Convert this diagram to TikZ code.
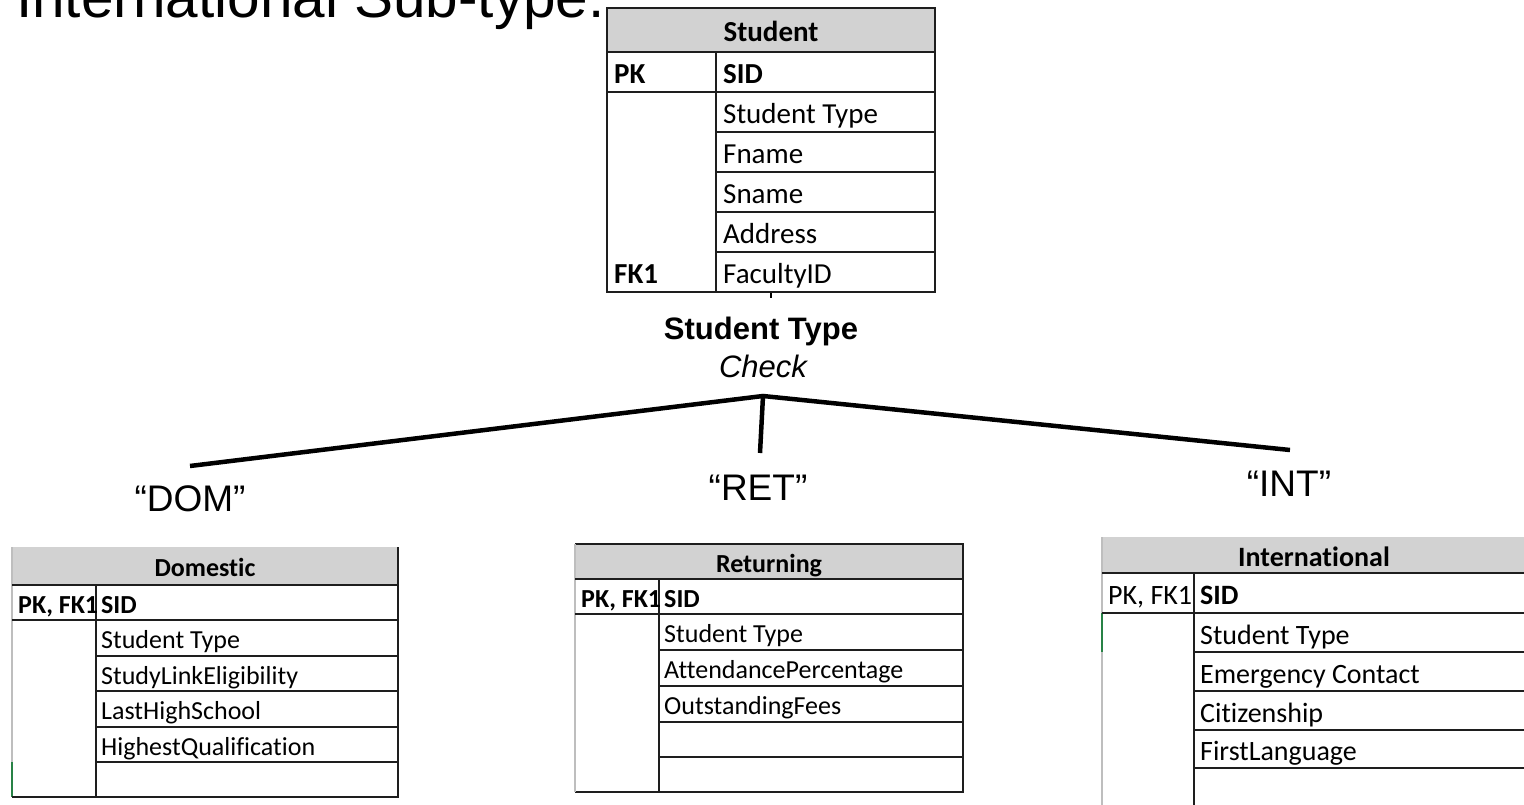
\documentclass[tikz,border=0pt]{standalone}
\usepackage{fontspec}
\setmainfont{Liberation Sans}
\newfontfamily\tabfont[Ligatures=NoCommon]{Carlito}
\definecolor{hdrgrey}{RGB}{210,210,210}
\definecolor{edgegrey}{RGB}{190,190,190}
\definecolor{tabline}{RGB}{30,30,30}
\definecolor{selgreen}{RGB}{40,130,70}
\tikzset{
  tline/.style={draw=tabline, line width=1.6pt},
  softedge/.style={draw=edgegrey, line width=1.4pt},
  cellA/.style={anchor=base west, inner sep=0pt, yshift=-2pt, font=\tabfont\fontsize{29}{34}\selectfont},
  cellB/.style={anchor=base west, inner sep=0pt, yshift=-2pt, font=\tabfont\fontsize{26}{31}\selectfont},
  cellC/.style={anchor=base west, inner sep=0pt, yshift=-2.5pt, font=\tabfont\fontsize{28}{33}\selectfont},
  branch/.style={line width=4.5pt, line cap=butt},
  tag/.style={anchor=base, inner sep=0pt, font=\fontsize{37}{42}\selectfont},
}
\begin{document}
\begin{tikzpicture}[x=1pt, y=-1pt]
\useasboundingbox (0,0) rectangle (1524,805);
\clip (0,0) rectangle (1524,805);

% heading line
\node[anchor=base west, inner sep=0pt, font=\fontsize{58.5}{64}\selectfont] (title) at (16,17.5) {International Sub-type.};

% ---------- Student ----------
\fill[hdrgrey] (607,8) rectangle (935,52);
\draw[tline] (607,8) rectangle (935,292);
\draw[tline] (607,52) -- (935,52);
\draw[tline] (716,52) -- (716,292);
\draw[tline] (607,92) -- (935,92);
\foreach \yy in {132,172,212,252} \draw[tline] (716,\yy) -- (935,\yy);
\node[cellA, anchor=base, font=\tabfont\bfseries\fontsize{29}{34}\selectfont] (sT) at (771,39.5) {Student};
\node[cellA, font=\tabfont\bfseries\fontsize{29}{34}\selectfont] (sPK) at (614,81.5) {PK};
\node[cellA, font=\tabfont\bfseries\fontsize{29}{34}\selectfont] (sSID) at (723,81.5) {SID};
\node[cellA] (sType) at (723,121.5) {Student Type};
\node[cellA] (sF) at (723,161.5) {Fname};
\node[cellA] (sS) at (723,201.5) {Sname};
\node[cellA] (sA) at (723,241.5) {Address};
\node[cellA, font=\tabfont\bfseries\fontsize{29}{34}\selectfont] (sFK) at (614,281.5) {FK1};
\node[cellA] (sFac) at (723,281.5) {FacultyID};
\coordinate (stub1) at (771,293);
\coordinate (stub2) at (771,298);
\draw[line width=1.6pt] (stub1) -- (stub2);

% ---------- discriminator ----------
\node[anchor=base, inner sep=0pt, font=\bfseries\fontsize{31}{36}\selectfont] (disc) at (761,339) {Student Type};
\node[anchor=base, inner sep=0pt, font=\itshape\fontsize{31}{36}\selectfont] (chk) at (763,377) {Check};
\coordinate (j) at (763,396);
\coordinate (jl) at (190,466);
\coordinate (jm) at (760,453);
\coordinate (jr) at (1290,450);
\draw[branch] (jl) -- (j) -- (jr);
\draw[branch] (j) -- (jm);
\node[tag] (dom) at (190,511) {“DOM”};
\node[tag] (ret) at (758,500) {“RET”};
\node[tag] (int) at (1289,496) {“INT”};

% ---------- Domestic ----------
\fill[hdrgrey] (12,547) rectangle (398,585);
\draw[softedge] (12,547) -- (12,797);
\draw[draw=selgreen, line width=1.4pt] (12,762) -- (12,797);
\draw[tline] (398,547) -- (398,797) -- (12,797);
\draw[tline] (12,585) -- (398,585);
\draw[tline] (96,585) -- (96,797);
\draw[tline] (12,620) -- (398,620);
\foreach \yy in {656,691,727,762} \draw[tline] (96,\yy) -- (398,\yy);
\node[cellB, anchor=base, font=\tabfont\bfseries\fontsize{26}{31}\selectfont] (dT) at (205,574.5) {Domestic};
\node[cellB, font=\tabfont\bfseries\fontsize{26}{31}\selectfont] (dPK) at (18,611) {PK, FK1};
\node[cellB, font=\tabfont\bfseries\fontsize{26}{31}\selectfont] (dSID) at (101,611) {SID};
\node[cellB] (dType) at (101,646.5) {Student Type};
\node[cellB] (dSL) at (101,682) {StudyLinkEligibility};
\node[cellB] (dLH) at (101,717.5) {LastHighSchool};
\node[cellB] (dHQ) at (101,753) {HighestQualification};

% ---------- Returning ----------
\fill[hdrgrey] (575,544) rectangle (963,579);
\draw[tline] (575,544) -- (963,544) -- (963,792) -- (575,792);
\draw[softedge] (575,544) -- (575,792);
\draw[tline] (575,579) -- (963,579);
\draw[tline] (659,579) -- (659,792);
\draw[tline] (575,614) -- (963,614);
\foreach \yy in {650,686,722,757} \draw[tline] (659,\yy) -- (963,\yy);
\node[cellB, anchor=base, font=\tabfont\bfseries\fontsize{26}{31}\selectfont] (rT) at (769,570) {Returning};
\node[cellB, font=\tabfont\bfseries\fontsize{26}{31}\selectfont] (rPK) at (581,605) {PK, FK1};
\node[cellB, font=\tabfont\bfseries\fontsize{26}{31}\selectfont] (rSID) at (664,605) {SID};
\node[cellB] (rType) at (664,640.5) {Student Type};
\node[cellB] (rAP) at (664,676.5) {AttendancePercentage};
\node[cellB] (rOF) at (664,712.5) {OutstandingFees};

% ---------- International ----------
\fill[hdrgrey] (1102,537) rectangle (1530,573);
\draw[softedge] (1102,537) -- (1102,810);
\draw[draw=selgreen, line width=1.4pt] (1102,613) -- (1102,652);
\draw[tline] (1102,573) -- (1530,573);
\draw[tline] (1194,573) -- (1194,810);
\draw[tline] (1102,613) -- (1530,613);
\foreach \yy in {652,691,730,768} \draw[tline] (1194,\yy) -- (1530,\yy);
\node[cellC, anchor=base, font=\tabfont\bfseries\fontsize{28}{33}\selectfont] (iT) at (1314,564) {International};
\node[cellC] (iPK) at (1108,602) {PK, FK1};
\node[cellC, font=\tabfont\bfseries\fontsize{28}{33}\selectfont] (iSID) at (1200,602) {SID};
\node[cellC] (iType) at (1200,641.5) {Student Type};
\node[cellC] (iEC) at (1200,680.5) {Emergency Contact};
\node[cellC] (iCit) at (1200,719.5) {Citizenship};
\node[cellC] (iFL) at (1200,758) {FirstLanguage};
\end{tikzpicture}
\end{document}
